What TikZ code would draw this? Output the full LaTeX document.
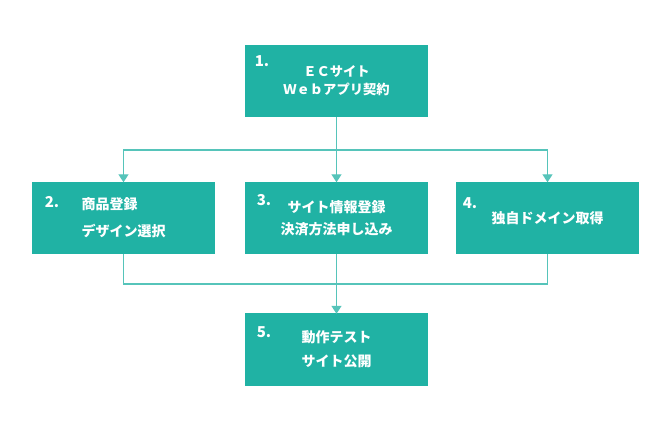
\documentclass[tikz,border=0pt]{standalone}
\usepackage{tikz}
\usetikzlibrary{arrows.meta}
\usetikzlibrary{positioning}
\usepackage{fontspec}
\usepackage{xcolor}
\newfontfamily\jpfont{Noto Sans CJK JP}

\definecolor{boxteal}{RGB}{32,178,164}
\definecolor{lineteal}{RGB}{86,196,186}

\begin{document}
\begin{tikzpicture}[x=1bp, y=-1bp,
	stepbox/.style={fill=boxteal, draw=none, minimum width=183bp, minimum height=72bp,
		text=white, font=\jpfont\bfseries\fontsize{14bp}{16bp}\selectfont, inner sep=0pt},
	num/.style={text=white, font=\jpfont\bfseries\fontsize{15bp}{16bp}\selectfont, inner sep=0pt},
	link/.style={draw=lineteal, line width=1.3bp},
	flow/.style={link, -{Triangle[width=10bp, length=8bp]}, shorten >=-0.5bp}]
	
	\useasboundingbox (0,0) rectangle (670,441);
	
	%boxes
	\node[stepbox, align=center, font=\jpfont\bfseries\fontsize{13.3bp}{16bp}\selectfont] (s1) at (336.5,81) {ＥＣサイト\\[2bp]Ｗｅｂアプリ契約};
	\node[stepbox, align=left] (s2) at (123.5,218) {商品登録\\[11bp]デザイン選択};
	\node[stepbox, align=center] (s3) at (336.5,218) {サイト情報登録\\[6bp]決済方法申し込み};
	\node[stepbox] (s4) at (547.5,218) {独自ドメイン取得};
	\node[stepbox, align=left] (s5) at (336.5,349.5) {動作テスト\\[8bp]サイト公開};
	
	%numbers
	\node[num] (n1) at (262,61) {1.};
	\node[num] (n2) at (52,202) {2.};
	\node[num] (n3) at (264,200) {3.};
	\node[num] (n4) at (470,203) {4.};
	\node[num] (n5) at (264,332) {5.};
	
	%arrows
	\coordinate (split) at (336.5,150);
	\coordinate (join) at (336.5,284);
	\draw[link] (s1.south) -- (split);
	\draw[flow] (split) -| (s2.north);
	\draw[flow] (split) -- (s3.north);
	\draw[flow] (split) -| (s4.north);
	
	\draw[link] (s2.south) |- (join);
	\draw[link] (s4.south) |- (join);
	\draw[flow] (s3.south) -- (s5.north);
	
\end{tikzpicture}
\end{document}
